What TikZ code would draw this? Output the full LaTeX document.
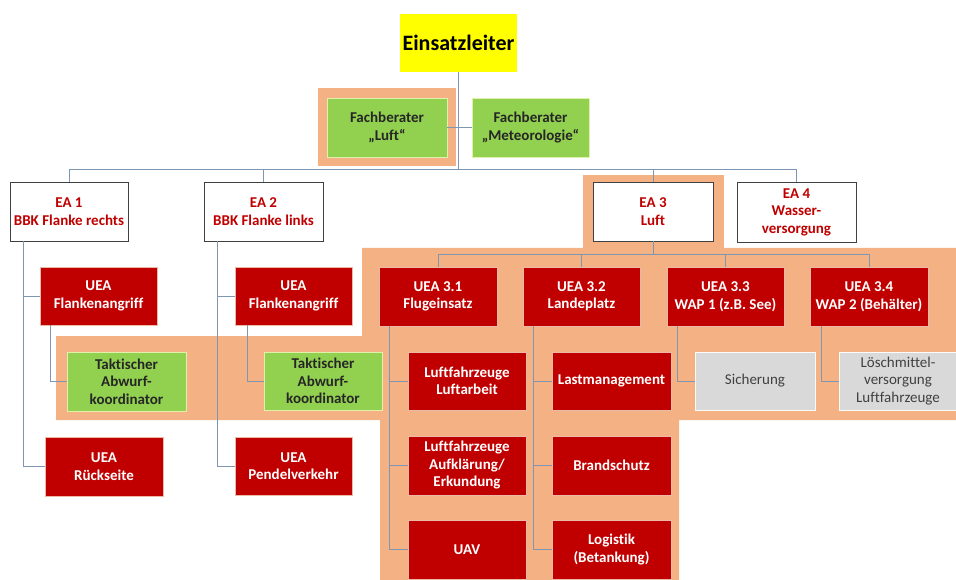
\documentclass[tikz,border=0pt]{standalone}
\usepackage{fontspec}
\setmainfont[Ligatures=NoCommon]{Carlito}
\definecolor{myorange}{RGB}{244,177,131}
\definecolor{myred}{RGB}{192,0,0}
\definecolor{mygreen}{RGB}{146,208,80}
\definecolor{myyellow}{RGB}{255,255,0}
\definecolor{mygray}{RGB}{217,217,217}
\definecolor{myline}{RGB}{125,150,180}
\definecolor{greenedge}{RGB}{225,240,170}
\definecolor{rededge}{RGB}{235,185,165}
\definecolor{graytext}{RGB}{64,64,64}
\begin{document}
\begin{tikzpicture}[x=1pt,y=-1pt,
  base/.style={inner sep=0pt, outer sep=0pt, anchor=north west, align=center,
               font=\fontsize{15}{17.5}\selectfont\bfseries},
  elbox/.style={base, fill=myyellow, font=\fontsize{22}{26}\selectfont\bfseries, text=black},
  greenbox/.style={base, fill=mygreen, draw=greenedge, line width=0.8pt, text=black!85},
  eabox/.style={base, fill=white, draw=black!75, line width=0.7pt, text=myred},
  redbox/.style={base, fill=myred, draw=rededge, line width=0.6pt, text=white},
  graybox/.style={base, fill=mygray, draw=white!90!mygray, line width=0.6pt, text=graytext,
                  font=\fontsize{15}{17.5}\selectfont},
  conn/.style={draw=myline, line width=0.8pt}
]
\useasboundingbox (0,0) rectangle (956,580);
\fill[white] (0,0) rectangle (956,580);

% orange highlight areas
\fill[myorange] (318,88) rectangle (456,166);
\fill[myorange] (583,175) rectangle (724,249);
\fill[myorange] (362,248) -- (956,248) -- (956,420) -- (679,420) -- (679,580)
   -- (380,580) -- (380,420) -- (56,420) -- (56,336) -- (362,336) -- cycle;

% top
\node[elbox, minimum width=117pt, minimum height=58pt] (el) at (400,14) {Einsatzleiter};
\node[greenbox, minimum width=120pt, minimum height=59pt] (fbl) at (327,98) {Fachberater\\„Luft“};
\node[greenbox, minimum width=117pt, minimum height=59pt] (fbm) at (472,98) {Fachberater\\„Meteorologie“};

% EA row
\node[eabox, minimum width=118pt, minimum height=59pt] (ea1) at (10,182) {EA 1\\BBK Flanke rechts};
\node[eabox, minimum width=119pt, minimum height=59pt] (ea2) at (204,182) {EA 2\\BBK Flanke links};
\node[eabox, minimum width=120pt, minimum height=59pt] (ea3) at (593,182) {EA 3\\Luft};
\node[eabox, minimum width=119pt, minimum height=60pt] (ea4) at (737,182) {EA 4\\Wasser-\\versorgung};

% EA 1 subtree
\node[redbox, minimum width=117pt, minimum height=58pt] (f1) at (40,267) {UEA\\Flankenangriff};
\node[greenbox, minimum width=119pt, minimum height=59pt] (t1) at (67,352) {Taktischer\\Abwurf-\\koordinator};
\node[redbox, minimum width=118pt, minimum height=59pt] (r1) at (45,437) {UEA\\Rückseite};

% EA 2 subtree
\node[redbox, minimum width=117pt, minimum height=58pt] (f2) at (235,267) {UEA\\Flankenangriff};
\node[greenbox, minimum width=118pt, minimum height=58pt] (t2) at (264,352) {Taktischer\\Abwurf-\\koordinator};
\node[redbox, minimum width=117pt, minimum height=58pt] (p2) at (235,437) {UEA\\Pendelverkehr};

% EA 3 subtree
\node[redbox, minimum width=118pt, minimum height=59pt] (u31) at (379,267) {UEA 3.1\\Flugeinsatz};
\node[redbox, minimum width=117pt, minimum height=59pt] (u32) at (523,267) {UEA 3.2\\Landeplatz};
\node[redbox, minimum width=117pt, minimum height=59pt] (u33) at (667,267) {UEA 3.3\\WAP 1 (z.B. See)};
\node[redbox, minimum width=118pt, minimum height=59pt] (u34) at (810,267) {UEA 3.4\\WAP 2 (Behälter)};

\node[redbox, minimum width=118pt, minimum height=58pt] (l1) at (408,352) {Luftfahrzeuge\\Luftarbeit};
\node[redbox, minimum width=118pt, minimum height=59pt] (l2) at (408,436) {Luftfahrzeuge\\Aufklärung/\\Erkundung};
\node[redbox, minimum width=118pt, minimum height=59pt] (l3) at (408,520) {UAV};

\node[redbox, minimum width=119pt, minimum height=58pt] (m1) at (552,352) {Lastmanagement};
\node[redbox, minimum width=119pt, minimum height=59pt] (m2) at (552,436) {Brandschutz};
\node[redbox, minimum width=119pt, minimum height=59pt] (m3) at (552,520) {Logistik\\(Betankung)};

\node[graybox, minimum width=120pt, minimum height=58pt] (s1) at (695,352) {Sicherung};
\node[graybox, minimum width=118pt, minimum height=58pt] (s2) at (839,352) {Löschmittel-\\versorgung\\Luftfahrzeuge};

% connectors
\coordinate (bus) at (458.5,169);
\draw[conn] (el.south) -- (bus);
\draw[conn] (fbl.east) -- (fbm.west);
\draw[conn] (bus) -| (ea1.north);
\draw[conn] (bus) -| (ea2.north);
\draw[conn] (bus) -| (ea3.north);
\draw[conn] (bus) -| (ea4.north);

\draw[conn] ([xshift=13pt]ea1.south west) |- (f1.west);
\draw[conn] ([xshift=13pt]ea1.south west) |- (r1.west);
\draw[conn] ([xshift=10pt]f1.south west) |- (t1.west);

\draw[conn] ([xshift=13pt]ea2.south west) |- (f2.west);
\draw[conn] ([xshift=13pt]ea2.south west) |- (p2.west);
\draw[conn] ([xshift=12pt]f2.south west) |- (t2.west);

\draw[conn] (ea3.south) -- ++(0,13) -| (u31.north);
\draw[conn] (ea3.south) -- ++(0,13) -| (u32.north);
\draw[conn] (ea3.south) -- ++(0,13) -| (u33.north);
\draw[conn] (ea3.south) -- ++(0,13) -| (u34.north);

\draw[conn] ([xshift=10pt]u31.south west) |- (l1.west);
\draw[conn] ([xshift=10pt]u31.south west) |- (l2.west);
\draw[conn] ([xshift=10pt]u31.south west) |- (l3.west);

\draw[conn] ([xshift=10pt]u32.south west) |- (m1.west);
\draw[conn] ([xshift=10pt]u32.south west) |- (m2.west);
\draw[conn] ([xshift=10pt]u32.south west) |- (m3.west);

\draw[conn] ([xshift=10pt]u33.south west) |- (s1.west);
\draw[conn] ([xshift=11pt]u34.south west) |- (s2.west);
\end{tikzpicture}
\end{document}
